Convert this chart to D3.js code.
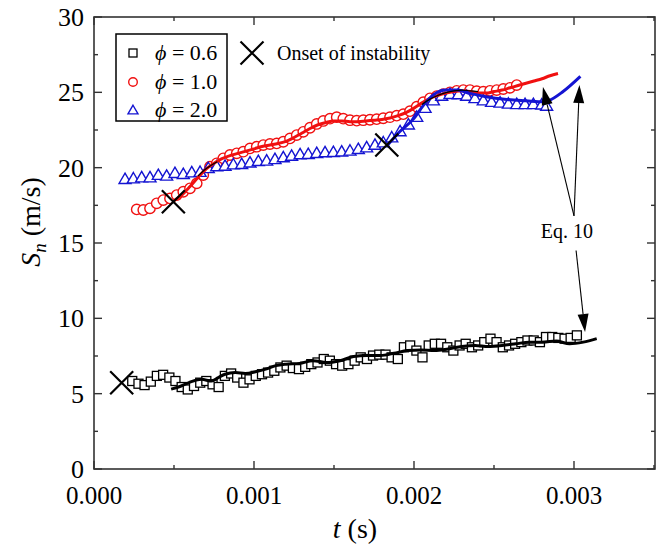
<!DOCTYPE html>
<html><head><meta charset="utf-8">
<script src="https://cdn.jsdelivr.net/npm/d3@7"></script>
<style>body{margin:0;background:#fff} svg{display:block}</style>
</head><body><svg id="c" width="664" height="547"></svg>
<script>
// ---------- data ----------
const xTicks = [0, 0.001, 0.002, 0.003];
const xTickLabels = ["0.000", "0.001", "0.002", "0.003"];
const xMinor = [0.0005, 0.0015, 0.0025, 0.0035];
const yTicks = [0, 5, 10, 15, 20, 25, 30];
const yMinor = [2.5, 7.5, 12.5, 17.5, 22.5, 27.5];

// phi = 0.6 measured (squares)
const t06 = [0.000239,0.000278,0.000316,0.000355,0.000393,0.000432,0.000471,0.000509,0.000548,0.000586,
 0.000625,0.000664,0.000702,0.000741,0.000779,0.000818,0.000857,0.000895,0.000934,0.000972,
 0.001011,0.001050,0.001088,0.001127,0.001165,0.001204,0.001243,0.001281,0.001320,0.001358,
 0.001397,0.001436,0.001474,0.001513,0.001551,0.001590,0.001629,0.001667,0.001706,0.001744,
 0.001783,0.001822,0.001860,0.001899,0.001937,0.001976,0.002015,0.002053,0.002092,0.002130,
 0.002169,0.002208,0.002246,0.002285,0.002323,0.002362,0.002401,0.002439,0.002478,0.002516,
 0.002555,0.002594,0.002632,0.002671,0.002709,0.002748,0.002787,0.002825,0.002864,0.002902,
 0.002941,0.002979,0.003018];
const s06 = [5.84,5.66,5.57,5.80,6.18,6.25,6.07,5.84,5.44,5.28,
 5.51,5.73,5.84,5.62,5.44,6.18,6.34,6.07,5.73,5.95,
 6.18,6.29,6.40,6.52,6.74,6.86,6.70,6.63,6.78,6.96,
 7.07,7.30,7.19,6.96,6.86,6.96,7.19,7.41,7.30,7.53,
 7.59,7.59,7.41,7.30,8.08,8.20,7.86,7.41,8.20,8.31,
 8.31,8.08,7.86,8.20,8.31,8.08,8.20,8.42,8.65,8.42,
 8.08,8.20,8.31,8.42,8.53,8.53,8.42,8.76,8.76,8.70,
 8.65,8.70,8.87];

// phi = 1.0 measured (circles)
const t10 = [0.000267,0.000308,0.000350,0.000392,0.000433,0.000475,0.000517,0.000558,0.000600,0.000642,
 0.000683,0.000725,0.000767,0.000808,0.000850,0.000892,0.000933,0.000975,0.001017,0.001058,
 0.001100,0.001142,0.001183,0.001225,0.001267,0.001308,0.001350,0.001392,0.001433,0.001475,
 0.001517,0.001558,0.001600,0.001642,0.001683,0.001725,0.001767,0.001808,0.001850,0.001892,
 0.001933,0.001975,0.002017,0.002058,0.002100,0.002142,0.002183,0.002225,0.002267,0.002308,
 0.002350,0.002392,0.002433,0.002475,0.002517,0.002558,0.002600,0.002642];
const s10 = [17.23,17.19,17.30,17.63,17.85,17.96,18.18,18.40,18.63,18.96,
 19.51,20.06,20.29,20.62,20.84,20.95,21.06,21.28,21.39,21.50,
 21.57,21.61,21.72,21.94,22.16,22.38,22.65,22.90,23.10,23.25,
 23.35,23.25,23.15,23.12,23.15,23.18,23.22,23.28,23.35,23.45,
 23.55,23.75,24.05,24.35,24.60,24.75,24.88,25.00,25.10,25.15,
 25.15,25.08,25.04,25.10,25.15,25.22,25.30,25.48];

// phi = 2.0 measured (triangles)
const t20 = [0.000194,0.000246,0.000298,0.000350,0.000402,0.000454,0.000506,0.000558,0.000611,0.000663,
 0.000714,0.000767,0.000819,0.000871,0.000923,0.000975,0.001027,0.001079,0.001131,0.001183,
 0.001235,0.001288,0.001339,0.001392,0.001444,0.001496,0.001548,0.001600,0.001652,0.001704,
 0.001756,0.001808,0.001861,0.001913,0.001965,0.002017,0.002069,0.002121,0.002173,0.002225,
 0.002277,0.002329,0.002381,0.002433,0.002485,0.002538,0.002590,0.002642,0.002694,0.002746,
 0.002798,0.002829];
const s20 = [19.18,19.22,19.29,19.29,19.45,19.40,19.58,19.51,19.62,19.65,
 19.90,20.03,20.06,20.15,20.17,20.27,20.37,20.40,20.50,20.62,
 20.72,20.82,20.84,20.90,20.95,20.97,21.00,21.06,21.17,21.28,
 21.45,21.61,21.94,22.35,22.80,23.30,23.90,24.40,24.70,24.82,
 24.80,24.70,24.55,24.40,24.30,24.25,24.18,24.15,24.15,24.15,
 24.12,24.04];

// Eq. 10 curves
const tEq06 = [0.000482,0.000545,0.000609,0.000672,0.000735,0.000777,0.000819,0.000883,0.000946,0.001009,
 0.001073,0.001136,0.001200,0.001284,0.001369,0.001453,0.001538,0.001622,0.001706,0.001791,
 0.001875,0.001960,0.002044,0.002129,0.002213,0.002298,0.002382,0.002466,0.002551,0.002636,
 0.002720,0.002804,0.002889,0.002973,0.003058,0.003142];
const sEq06 = [5.30,5.51,5.80,5.95,5.84,6.07,6.29,6.40,6.34,6.45,
 6.63,6.86,6.96,7.01,7.19,7.07,7.19,7.46,7.53,7.53,
 7.68,7.86,7.90,7.86,7.97,8.13,8.20,8.13,8.20,8.31,
 8.42,8.42,8.49,8.31,8.42,8.65];

const tEq10 = [0.00049,0.00055,0.00060,0.00065,0.00070,0.00075,0.00080,0.00085,0.00090,0.00095,
 0.00100,0.00105,0.00110,0.00115,0.00120,0.00125,0.00130,0.00135,0.00140,0.00145,
 0.00150,0.00155,0.00160,0.00165,0.00170,0.00175,0.00180,0.00185,0.00190,0.00195,
 0.00200,0.00205,0.00210,0.00215,0.00220,0.00225,0.00230,0.00235,0.00240,0.00245,
 0.00250,0.00255,0.00260,0.00265,0.00270,0.00275,0.00280,0.00285,0.00290];
const sEq10 = [17.74,18.20,18.75,19.35,19.90,20.30,20.60,20.80,20.95,21.10,
 21.25,21.40,21.50,21.60,21.75,22.00,22.30,22.60,22.85,23.00,
 23.10,23.10,23.05,23.05,23.10,23.15,23.20,23.30,23.45,23.65,
 23.95,24.30,24.60,24.80,24.95,25.05,25.10,25.05,24.95,24.95,
 25.05,25.15,25.30,25.45,25.60,25.75,25.90,26.10,26.25];

const tEq20 = [0.00183,0.00191,0.00200,0.00206,0.00212,0.00220,0.00227,0.00235,0.00245,0.00258,
 0.00270,0.00281,0.00285,0.00293,0.00304];
const sEq20 = [21.43,22.38,23.27,24.15,24.82,25.15,25.15,24.93,24.71,24.53,
 24.44,24.37,24.49,25.04,26.06];

// thin black trace visible on top of the coloured curves
const tBlk = [0.00065,0.00069,0.00073,0.00077];
const sBlk = [19.45,19.85,20.15,20.40];
const tBlk2 = [0.00205,0.00210,0.00215,0.00220,0.00225,0.00230,0.00235,0.00240];
const sBlk2 = [24.20,24.55,24.80,24.98,25.10,25.15,25.10,25.05];

// onset of instability
const tOnset = [0.000173, 0.000496, 0.00183];
const sOnset = [5.73, 17.74, 21.5];

// Eq. 10 annotation arrows [t0, s0, t1, s1]
const arrows = [[0.0030, 16.8, 0.002806, 25.35], [0.0030, 16.8, 0.003034, 25.48], [0.003013, 14.5, 0.003069, 9.09]];
const eqLabel = {t: 0.002955, s: 15.5, text: "Eq. 10"};

const legendLabels = ["0.6", "1.0", "2.0"];

// ---------- drawing ----------
const svg = d3.select("#c");
const L = 94, R = 655, T = 17, B = 469;
const x = d3.scaleLinear().domain([0, 0.0035]).range([L, L + 560]);
const y = d3.scaleLinear().domain([0, 30]).range([B, T]);
const serif = "'Liberation Serif','Times New Roman',serif";
const axisCol = "#333";
const RED = "#f01010", BLUE = "#1414d2";

// frame
svg.append("rect").attr("x", L).attr("y", T).attr("width", R - L).attr("height", B - T)
  .attr("fill", "none").attr("stroke", axisCol).attr("stroke-width", 1.6);

// ticks
const tk = svg.append("g").attr("stroke", axisCol).attr("stroke-width", 1.4);
xTicks.forEach(v => {
  tk.append("line").attr("x1", x(v)).attr("x2", x(v)).attr("y1", B).attr("y2", B - 8);
  tk.append("line").attr("x1", x(v)).attr("x2", x(v)).attr("y1", T).attr("y2", T + 8);
});
xMinor.forEach(v => {
  tk.append("line").attr("x1", x(v)).attr("x2", x(v)).attr("y1", B).attr("y2", B - 4);
  tk.append("line").attr("x1", x(v)).attr("x2", x(v)).attr("y1", T).attr("y2", T + 4);
});
yTicks.forEach(v => {
  tk.append("line").attr("x1", L).attr("x2", L + 8).attr("y1", y(v)).attr("y2", y(v));
  tk.append("line").attr("x1", R).attr("x2", R - 8).attr("y1", y(v)).attr("y2", y(v));
});
yMinor.forEach(v => {
  tk.append("line").attr("x1", L).attr("x2", L + 4).attr("y1", y(v)).attr("y2", y(v));
  tk.append("line").attr("x1", R).attr("x2", R - 4).attr("y1", y(v)).attr("y2", y(v));
});

// tick labels
svg.append("g").selectAll("text").data(xTicks).join("text")
  .attr("x", d => x(d)).attr("y", 504).attr("text-anchor", "middle")
  .attr("font-family", serif).attr("font-size", 25).attr("fill", "#000")
  .text((d, i) => xTickLabels[i]);
svg.append("g").selectAll("text").data(yTicks).join("text")
  .attr("x", 84).attr("y", d => y(d)).attr("dy", "0.34em").attr("text-anchor", "end")
  .attr("font-family", serif).attr("font-size", 26).attr("fill", "#000")
  .text(d => d);

// axis titles
const xt = svg.append("text").attr("x", 355).attr("y", 538).attr("text-anchor", "middle")
  .attr("font-family", serif).attr("font-size", 28);
xt.append("tspan").attr("font-style", "italic").text("t");
xt.append("tspan").text(" (s)");
const yt = svg.append("text").attr("transform", "translate(40,222) rotate(-90)")
  .attr("text-anchor", "middle").attr("font-family", serif).attr("font-size", 28);
yt.append("tspan").attr("font-style", "italic").text("S");
yt.append("tspan").attr("font-style", "italic").attr("font-size", 19).attr("dy", 6).text("n");
yt.append("tspan").attr("dy", -6).text(" (m/s)");

// markers
const sq = 9, cr = 5.2, tri = 12;
const triPath = (cx, cy, s) => {
  const h = s * Math.sqrt(3) / 2;
  return `M${cx},${cy - 2 * h / 3}L${cx + s / 2},${cy + h / 3}L${cx - s / 2},${cy + h / 3}Z`;
};
const plot = svg.append("g");
plot.append("g").selectAll("rect").data(t06).join("rect")
  .attr("x", (d) => x(d) - sq / 2).attr("y", (d, i) => y(s06[i]) - sq / 2)
  .attr("width", sq).attr("height", sq).attr("fill", "#fff").attr("stroke", "#000").attr("stroke-width", 1.3);
plot.append("g").selectAll("circle").data(t10).join("circle")
  .attr("cx", d => x(d)).attr("cy", (d, i) => y(s10[i])).attr("r", cr)
  .attr("fill", "#fff").attr("stroke", RED).attr("stroke-width", 1.4);
plot.append("g").selectAll("path").data(t20).join("path")
  .attr("d", (d, i) => triPath(x(d), y(s20[i]), tri))
  .attr("fill", "#fff").attr("stroke", BLUE).attr("stroke-width", 1.4);

// Eq. 10 lines
const line = d3.line().x(d => x(d[0])).y(d => y(d[1])).curve(d3.curveMonotoneX);
const zip = (a, b) => a.map((v, i) => [v, b[i]]);
plot.append("path").attr("d", line(zip(tEq06, sEq06))).attr("fill", "none").attr("stroke", "#000").attr("stroke-width", 3);
plot.append("path").attr("d", line(zip(tEq10, sEq10))).attr("fill", "none").attr("stroke", RED).attr("stroke-width", 3);
plot.append("path").attr("d", line(zip(tEq20, sEq20))).attr("fill", "none").attr("stroke", BLUE).attr("stroke-width", 3);
plot.append("path").attr("d", line(zip(tBlk, sBlk))).attr("fill", "none").attr("stroke", "#000").attr("stroke-width", 1.2);
plot.append("path").attr("d", line(zip(tBlk2, sBlk2))).attr("fill", "none").attr("stroke", "#000").attr("stroke-width", 1.2);

// onset crosses
const cross = (g, cx, cy, h) => {
  g.append("path").attr("d", `M${cx - h},${cy - h}L${cx + h},${cy + h}M${cx - h},${cy + h}L${cx + h},${cy - h}`)
    .attr("stroke", "#000").attr("stroke-width", 2.2).attr("fill", "none");
};
tOnset.forEach((t, i) => cross(plot, x(t), y(sOnset[i]), 11.5));

// arrows
const ag = svg.append("g");
arrows.forEach(a => {
  const x0 = x(a[0]), y0 = y(a[1]), x1 = x(a[2]), y1 = y(a[3]);
  const ang = Math.atan2(y1 - y0, x1 - x0);
  const len = 18, hw = 5.5;
  const bx = x1 - len * Math.cos(ang), by = y1 - len * Math.sin(ang);
  ag.append("line").attr("x1", x0).attr("y1", y0).attr("x2", bx).attr("y2", by)
    .attr("stroke", "#000").attr("stroke-width", 1.1);
  const px = -Math.sin(ang) * hw, py = Math.cos(ang) * hw;
  ag.append("path").attr("d", `M${x1},${y1}L${bx + px},${by + py}L${bx - px},${by - py}Z`).attr("fill", "#000");
});
svg.append("text").attr("x", x(eqLabel.t)).attr("y", 238).attr("text-anchor", "middle")
  .attr("font-family", serif).attr("font-size", 20).text(eqLabel.text);

// legend
svg.append("rect").attr("x", 116).attr("y", 34).attr("width", 111).attr("height", 87)
  .attr("fill", "#fff").attr("stroke", "#000").attr("stroke-width", 1.5);
const ly = [53, 82, 110];
svg.append("rect").attr("x", 133 - 4).attr("y", ly[0] - 4).attr("width", 8).attr("height", 8)
  .attr("fill", "#fff").attr("stroke", "#000").attr("stroke-width", 1.3);
svg.append("circle").attr("cx", 133).attr("cy", ly[1]).attr("r", 4.3)
  .attr("fill", "#fff").attr("stroke", RED).attr("stroke-width", 1.4);
svg.append("path").attr("d", triPath(133, ly[2] + 1, 10)).attr("fill", "#fff").attr("stroke", BLUE).attr("stroke-width", 1.4);
legendLabels.forEach((lab, i) => {
  const tx = svg.append("text").attr("x", 155).attr("y", ly[i] + 7).attr("font-family", serif).attr("font-size", 22);
  tx.append("tspan").attr("font-style", "italic").text("ϕ");
  tx.append("tspan").text(" = " + lab);
});
cross(svg, 252, 53, 11.5);
svg.append("text").attr("x", 277).attr("y", 60).attr("font-family", serif).attr("font-size", 20).text("Onset of instability");
</script></body></html>
